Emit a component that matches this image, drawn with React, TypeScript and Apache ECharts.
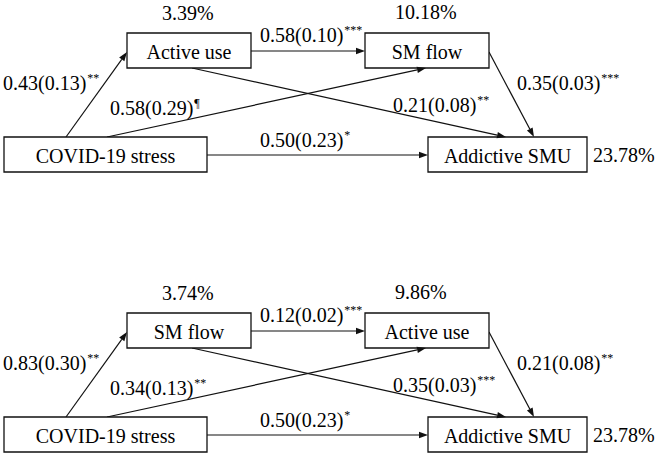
import React, { useEffect, useRef } from "react";
import * as echarts from "echarts";

// ---- Data ----
// Node order per panel: [predictor, mediator 1, mediator 2, outcome]
const nodesTop = ["COVID-19 stress", "Active use", "SM flow", "Addictive SMU"];
const nodesBottom = ["COVID-19 stress", "SM flow", "Active use", "Addictive SMU"];
// Explained variance: [mediator 1, mediator 2, outcome]
const r2Top = ["3.39%", "10.18%", "23.78%"];
const r2Bottom = ["3.74%", "9.86%", "23.78%"];
// Path order: [X→M1, M1→M2, M1→Y, X→M2, M2→Y, X→Y]
const coefTop = ["0.43(0.13)", "0.58(0.10)", "0.21(0.08)", "0.58(0.29)", "0.35(0.03)", "0.50(0.23)"];
const sigTop = ["**", "***", "**", "¶", "***", "*"];
const coefBottom = ["0.83(0.30)", "0.12(0.02)", "0.35(0.03)", "0.34(0.13)", "0.21(0.08)", "0.50(0.23)"];
const sigBottom = ["**", "***", "***", "**", "**", "*"];

// ---- Layout (pixels, relative to each panel) ----
const panelOffsets = [0, 280];
const boxes = [
  [4, 137, 203, 35],
  [127, 33, 124, 35],
  [365, 33, 124, 35],
  [428, 137, 159, 35],
];
const r2Pos = [
  [162, 13],
  [395, 12],
  [593, 155],
];
const edgeEnds = [
  [66, 137, 127, 52],
  [251, 51, 365, 51],
  [192, 68, 506, 137],
  [107, 137, 426, 68],
  [489, 52, 534, 137],
  [207, 155, 428, 155],
];
const edgeLabelPos = [
  [3, 83],
  [260, 35],
  [393, 105],
  [110, 108],
  [517, 83],
  [260, 140],
];

const FONT = "Liberation Serif";
const FS = 20;
const INK = "#111";

function arrowHead(x1: number, y1: number, x2: number, y2: number) {
  const dx = x2 - x1;
  const dy = y2 - y1;
  const len = Math.sqrt(dx * dx + dy * dy);
  const ux = dx / len;
  const uy = dy / len;
  const L = 9;
  const W = 3.2;
  const bx = x2 - ux * L;
  const by = y2 - uy * L;
  return {
    pts: [
      [x2, y2],
      [bx - uy * W, by + ux * W],
      [bx + uy * W, by - ux * W],
    ],
    bx,
    by,
  };
}

function buildPanel(
  off: number,
  nodes: string[],
  r2: string[],
  coef: string[],
  sig: string[]
): any[] {
  const els: any[] = [];
  edgeEnds.forEach((e) => {
    const [x1, y1, x2, y2] = [e[0], e[1] + off, e[2], e[3] + off];
    const ah = arrowHead(x1, y1, x2, y2);
    els.push({
      type: "line",
      shape: { x1, y1, x2: ah.bx, y2: ah.by },
      style: { stroke: INK, lineWidth: 1.2 },
      z: 1,
    });
    els.push({
      type: "polygon",
      shape: { points: ah.pts },
      style: { fill: INK },
      z: 3,
    });
  });
  boxes.forEach((b, i) => {
    els.push({
      type: "rect",
      shape: { x: b[0], y: b[1] + off, width: b[2], height: b[3] },
      style: { fill: "#fff", stroke: INK, lineWidth: 1.3 },
      z: 2,
    });
    els.push({
      type: "text",
      x: b[0] + b[2] / 2,
      y: b[1] + off + b[3] / 2 + 1,
      style: {
        text: nodes[i],
        fontSize: FS,
        fontFamily: FONT,
        fill: "#000",
        align: "center",
        verticalAlign: "middle",
      },
      z: 4,
    });
  });
  r2.forEach((t, i) => {
    els.push({
      type: "text",
      x: r2Pos[i][0],
      y: r2Pos[i][1] + off,
      style: {
        text: t,
        fontSize: FS,
        fontFamily: FONT,
        fill: "#000",
        align: "left",
        verticalAlign: "middle",
      },
      z: 4,
    });
  });
  coef.forEach((c, i) => {
    els.push({
      type: "text",
      x: edgeLabelPos[i][0],
      y: edgeLabelPos[i][1] + off,
      style: {
        text: `{m|${c}}{s|${sig[i]}}`,
        align: "left",
        verticalAlign: "middle",
        fontFamily: FONT,
        rich: {
          m: { fontSize: FS, fontFamily: FONT, fill: "#000", lineHeight: 22 },
          s: { fontSize: 12, fontFamily: FONT, fill: "#000", verticalAlign: "top", lineHeight: 12, padding: [0, 0, 0, 1] },
        },
      },
      z: 4,
    });
  });
  return els;
}

export default function App() {
  const ref = useRef<HTMLDivElement>(null);
  useEffect(() => {
    if (!ref.current) return;
    const chart = echarts.init(ref.current, undefined, { renderer: "svg" });
    const elements = [
      ...buildPanel(panelOffsets[0], nodesTop, r2Top, coefTop, sigTop),
      ...buildPanel(panelOffsets[1], nodesBottom, r2Bottom, coefBottom, sigBottom),
    ];
    chart.setOption({
      animation: false,
      backgroundColor: "#fff",
      graphic: { elements },
    });
    return () => chart.dispose();
  }, []);
  return (
    <div
      ref={ref}
      style={{ position: "fixed", left: 0, top: 0, width: 661, height: 455, background: "#fff" }}
    />
  );
}
